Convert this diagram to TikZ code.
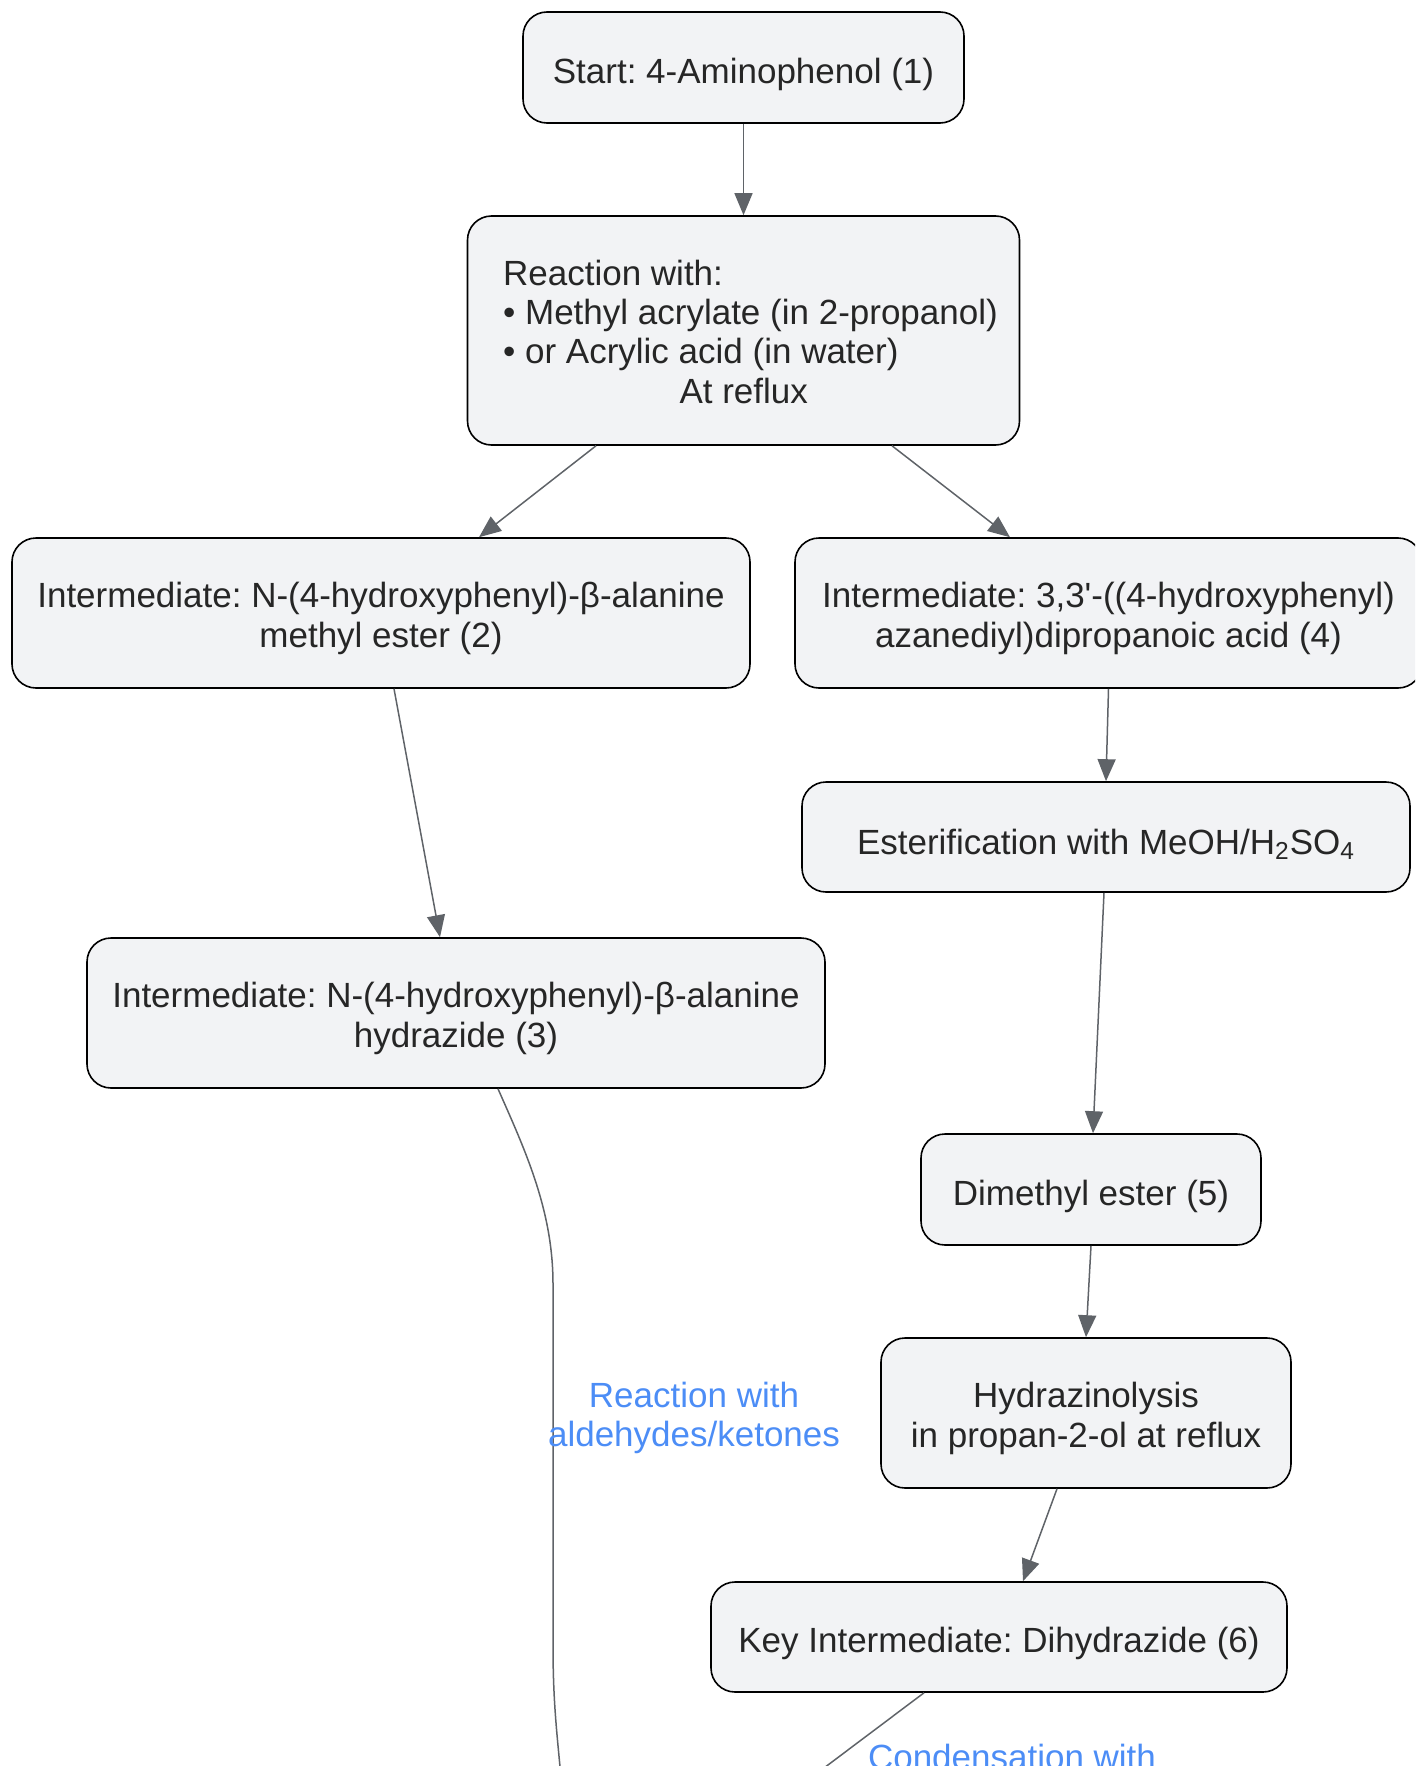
\documentclass[tikz,border=0pt]{standalone}
\usepackage{fontspec}
\setmainfont{Liberation Sans}
\usetikzlibrary{positioning}
\usetikzlibrary{arrows.meta}

\definecolor{boxfill}{HTML}{F2F3F5}
\definecolor{linegray}{HTML}{5F6368}
\definecolor{labelblue}{HTML}{4C8DF6}
\newcommand{\topline}{\rule{0pt}{18pt}}

\begin{document}
\frenchspacing
\begin{tikzpicture}[x=0.5pt,y=-0.5pt,
  box/.style={draw=black,line width=0.8pt,fill=boxfill,rounded corners=12pt,align=center,
    text=black!85,font=\fontsize{17.5}{19.7}\selectfont,
    execute at begin node={\rule{0pt}{19.6pt}}},
  flow/.style={draw=linegray,line width=0.75pt,-{Triangle[length=11pt,width=9pt]}},
  link/.style={draw=linegray,line width=0.75pt},
  edgelabel/.style={text=labelblue,align=center,font=\fontsize{17.5}{19.7}\selectfont}]
\useasboundingbox (0,0) rectangle (1415,1766);
\clip (0,0) rectangle (1415,1766);

% boxes
\node[box,minimum width=220.5pt,minimum height=55.5pt] (start) at (743.5,67.5) {Start: 4-Aminophenol (1)};
\node[box,minimum width=276pt,minimum height=114.5pt] (react) at (743.5,330.5)
  {\hspace*{7pt}\begin{tabular}[t]{@{}l@{}}Reaction with:\\ • Methyl acrylate (in 2-propanol)\\ • or Acrylic acid (in water)\\ \multicolumn{1}{@{}c@{}}{\hspace*{-6.8pt}At reflux}\end{tabular}};
\node[box,minimum width=369pt,minimum height=75pt] (int2) at (381,613) {\topline Intermediate: N-(4-hydroxyphenyl)-β-alanine\\methyl ester (2)};
\node[box,minimum width=313.5pt,minimum height=75pt] (int4) at (1108.5,613) {\topline Intermediate: 3,3\textquotesingle-((4-hydroxyphenyl)\\azanediyl)dipropanoic acid (4)};
\node[box,minimum width=304pt,minimum height=55pt] (ester) at (1106,837) {Esterification with MeOH/H\textsubscript{2}SO\textsubscript{4}};
\node[box,minimum width=369pt,minimum height=75pt] (int3) at (456,1013) {\topline Intermediate: N-(4-hydroxyphenyl)-β-alanine\\hydrazide (3)};
\node[box,minimum width=170pt,minimum height=55.5pt] (dimethyl) at (1091,1189.5) {Dimethyl ester (5)};
\node[box,minimum width=205pt,minimum height=75pt] (hydraz) at (1086,1413) {\topline Hydrazinolysis\\in propan-2-ol at reflux};
\node[box,minimum width=288pt,minimum height=55pt] (key) at (999,1637) {Key Intermediate: Dihydrazide (6)};

% connectors
\draw[flow] (start) -- (react);
\draw[flow] ([xshift=-73.75pt]react.south) -- ([xshift=49pt]int2.north);
\draw[flow] ([xshift=74.25pt]react.south) -- ([xshift=-49.25pt]int4.north);
\draw[flow] ([xshift=6.5pt]int2.south) -- ([xshift=-8pt]int3.north);
\draw[flow] (int4.south) -- (ester.north);
\draw[flow] ([xshift=-1pt]ester.south) -- ([xshift=1pt]dimethyl.north);
\draw[flow] (dimethyl.south) -- (hydraz.north);
\draw[flow] ([xshift=-14.5pt]hydraz.south) -- ([xshift=12pt]key.north);

\coordinate (endA) at (563,1800);
\coordinate (endB) at (780,1801);
\draw[link] ([xshift=21pt]int3.south) .. controls (525,1150) and (553,1210) .. (553,1284)
  -- (553,1645) .. controls (553,1710) and (558,1740) .. (endA);
\draw[link] ([xshift=-37.5pt]key.south) -- (endB);

% edge labels
\node[edgelabel] (lblA) at (694,1418) {Reaction with\\aldehydes/ketones};
\node[edgelabel,anchor=base] (lblB) at (1012,1769) {Condensation with};
\end{tikzpicture}
\end{document}
